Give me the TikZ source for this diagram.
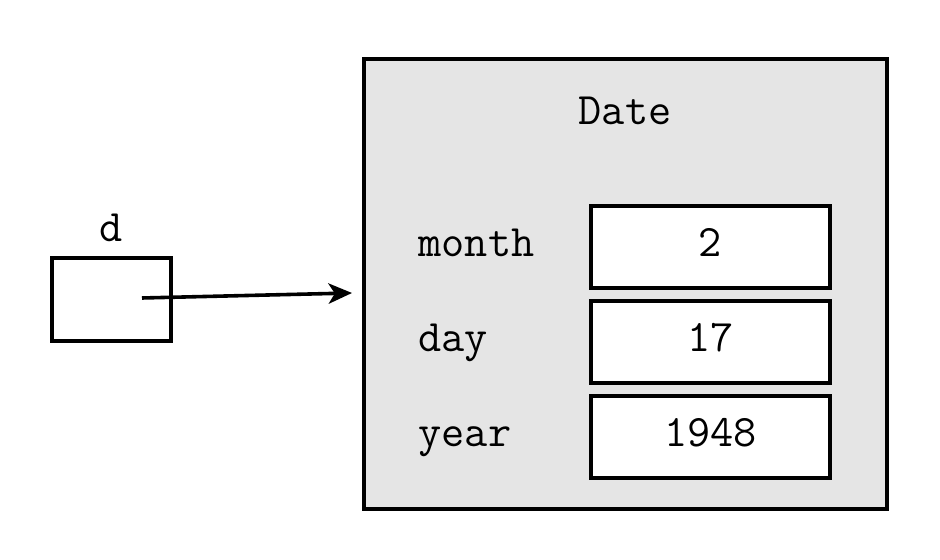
\documentclass[tikz,border=0pt]{standalone}
\usetikzlibrary{arrows.meta}
\begin{document}
\begin{tikzpicture}[x=0.32pt,y=-0.32pt,
  every node/.style={font=\Large\ttfamily},
  cell/.style={draw=black,line width=1pt,fill=white,minimum width=76.48pt,minimum height=26.24pt,inner sep=0pt},
  objbox/.style={draw=black,line width=1pt,fill=black!10,minimum width=167.36pt,minimum height=144pt,inner sep=0pt},
  txt/.style={anchor=base,inner sep=0pt},
  ptr/.style={line width=1.15pt,-{Stealth[length=7.5pt,width=6.5pt,inset=2pt]}}]
\useasboundingbox (0,0) rectangle (940,560);
% variable d
\node[draw=black,line width=1pt,fill=white,minimum width=38.08pt,minimum height=26.56pt,inner sep=0pt] (dbox) at (111.5,299.5) {};
\node[txt] (dlabel) at (111.5,242) {d};
% object
\node[objbox] (date) at (625.5,284) {};
\node[txt] (title) at (625,125) {Date};
\node[cell] (c1) at (710.5,247) {};
\node[cell] (c2) at (710.5,342) {};
\node[cell] (c3) at (710.5,437) {};
\node[txt] (v1) at (710.5,257) {2};
\node[txt] (v2) at (710.5,351.5) {17};
\node[txt] (v3) at (710.5,446.5) {1948};
\coordinate (lx) at (418,0);
\node[anchor=base west,inner sep=0pt] (l1) at (lx |- v1.base) {month};
\node[anchor=base west,inner sep=0pt] (l2) at (lx |- v2.base) {day};
\node[anchor=base west,inner sep=0pt] (l3) at (lx |- v3.base) {year};
% pointer
\coordinate (dptr) at (142,298);
\coordinate (tip) at (352,293);
\draw[ptr] (dptr) -- (tip);
\end{tikzpicture}
\end{document}
